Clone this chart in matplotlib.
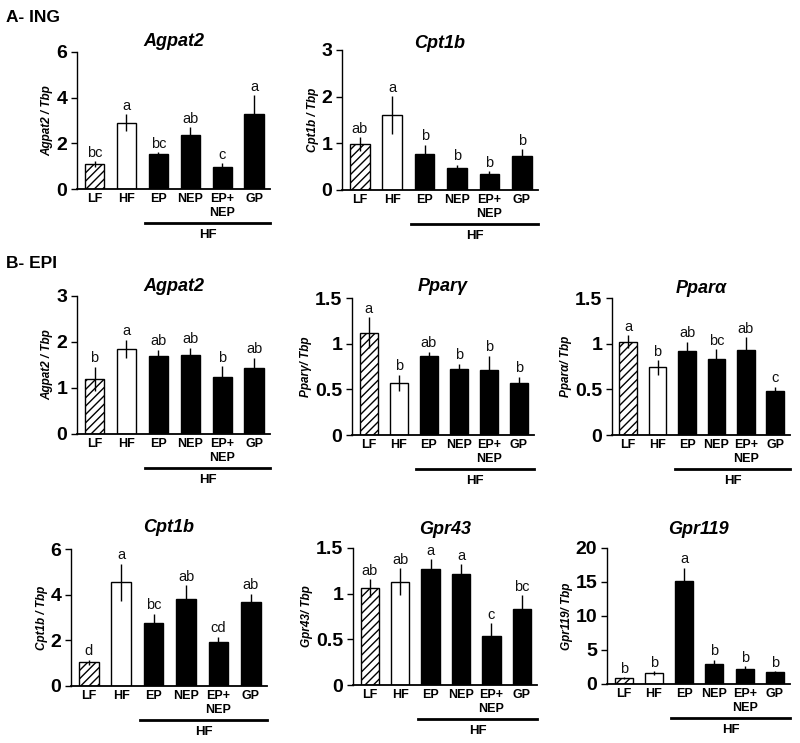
import matplotlib
matplotlib.use("Agg")
import matplotlib.pyplot as plt
import matplotlib.transforms as mtransforms

plt.rcParams['font.family'] = ['Liberation Sans', 'DejaVu Sans']
plt.rcParams['hatch.linewidth'] = 1.0

groups = ["LF", "HF", "EP", "NEP", "EP+\nNEP", "GP"]

# Panel A - ING
ing_agpat2 = [1.10, 2.90, 1.55, 2.35, 0.97, 3.30]
ing_agpat2_err = [0.12, 0.38, 0.07, 0.37, 0.15, 0.80]
ing_agpat2_let = ["bc", "a", "bc", "ab", "c", "a"]

ing_cpt1b = [0.98, 1.60, 0.77, 0.48, 0.34, 0.73]
ing_cpt1b_err = [0.15, 0.41, 0.20, 0.06, 0.06, 0.15]
ing_cpt1b_let = ["ab", "a", "b", "b", "b", "b"]

# Panel B - EPI
epi_agpat2 = [1.20, 1.85, 1.70, 1.72, 1.24, 1.43]
epi_agpat2_err = [0.26, 0.20, 0.13, 0.16, 0.24, 0.23]
epi_agpat2_let = ["b", "a", "ab", "ab", "b", "ab"]

epi_pparg = [1.12, 0.57, 0.87, 0.72, 0.71, 0.57]
epi_pparg_err = [0.17, 0.09, 0.04, 0.06, 0.16, 0.07]
epi_pparg_let = ["a", "b", "ab", "b", "b", "b"]

epi_ppara = [1.02, 0.74, 0.92, 0.83, 0.93, 0.48]
epi_ppara_err = [0.07, 0.08, 0.10, 0.11, 0.14, 0.05]
epi_ppara_let = ["a", "b", "ab", "bc", "ab", "c"]

epi_cpt1b = [1.04, 4.54, 2.78, 3.80, 1.92, 3.66]
epi_cpt1b_err = [0.12, 0.82, 0.38, 0.62, 0.24, 0.38]
epi_cpt1b_let = ["d", "a", "bc", "ab", "cd", "ab"]

epi_gpr43 = [1.06, 1.13, 1.27, 1.21, 0.54, 0.83]
epi_gpr43_err = [0.10, 0.15, 0.11, 0.11, 0.14, 0.15]
epi_gpr43_let = ["ab", "ab", "a", "a", "c", "bc"]

epi_gpr119 = [0.88, 1.62, 15.10, 3.00, 2.20, 1.72]
epi_gpr119_err = [0.10, 0.25, 2.00, 0.60, 0.40, 0.15]
epi_gpr119_let = ["b", "b", "a", "b", "b", "b"]

W, H = 800, 743
fig = plt.figure(figsize=(W / 100, H / 100), dpi=100)


def panel(left, right, y0, ytop, title_y, vals, errs, lets, title, ylabel, yticks, yticklabels):
    ax = fig.add_axes([left / W, 1 - y0 / H, (right - left) / W, (y0 - ytop) / H])
    hpx = y0 - ytop
    x = list(range(len(vals)))
    faces = ["white", "white"] + ["black"] * 4
    hatches = ["////", "", "", "", "", ""]
    for i in x:
        ax.bar(i, vals[i], width=0.6, color=faces[i], edgecolor="black",
               hatch=hatches[i], linewidth=1.0, zorder=2)
    ax.errorbar(x, vals, yerr=errs, fmt="none", ecolor="black", elinewidth=1.0,
                capsize=0, zorder=3)
    for i in x:
        ax.annotate(lets[i], (i, vals[i] + errs[i]), xytext=(0, 1),
                    textcoords="offset points", ha="center", va="bottom",
                    fontsize=10.5, color="#111111")
    ax.set_xlim(-0.55, 5.5)
    ax.set_ylim(0, yticks[-1])
    ax.set_yticks(yticks)
    ax.set_yticklabels(yticklabels, fontsize=14, fontweight="bold")
    ax.set_xticks(x)
    ax.set_xticklabels(groups, fontsize=9, fontweight="bold", linespacing=1.15)
    ax.tick_params(axis="x", length=0, pad=3)
    ax.tick_params(axis="y", length=4, width=1, pad=3, direction="out")
    for s in ["top", "right"]:
        ax.spines[s].set_visible(False)
    ax.spines["left"].set_linewidth(1.0)
    ax.spines["bottom"].set_linewidth(1.3)
    fig.text((left + right) / 2 / W, 1 - title_y / H, title, fontsize=13,
             fontweight="bold", style="italic", ha="center", va="center")
    ax.set_ylabel(ylabel, fontsize=8.5, fontweight="bold", style="italic", labelpad=2)
    trans = mtransforms.blended_transform_factory(ax.transData, ax.transAxes)
    ax.plot([1.58, 5.5], [-34 / hpx, -34 / hpx], color="black", lw=2.0,
            transform=trans, clip_on=False)
    ax.text(3.55, -46 / hpx, "HF", transform=trans, ha="center", va="center",
            fontsize=9.5, fontweight="bold")
    return ax


panel(77, 270, 189, 52, 42, ing_agpat2, ing_agpat2_err, ing_agpat2_let,
      "Agpat2", "Agpat2 / Tbp", [0, 2, 4, 6], ["0", "2", "4", "6"])
panel(342, 538, 190, 50, 43, ing_cpt1b, ing_cpt1b_err, ing_cpt1b_let,
      "Cpt1b", "Cpt1b / Tbp", [0, 1, 2, 3], ["0", "1", "2", "3"])

panel(77, 270, 434, 296, 287, epi_agpat2, epi_agpat2_err, epi_agpat2_let,
      "Agpat2", "Agpat2 / Tbp", [0, 1, 2, 3], ["0", "1", "2", "3"])
panel(352, 534, 435, 298, 287, epi_pparg, epi_pparg_err, epi_pparg_let,
      "Pparγ", "Pparγ/ Tbp", [0, 0.5, 1, 1.5], ["0", "0.5", "1", "1.5"])
panel(612, 790, 435, 298, 288, epi_ppara, epi_ppara_err, epi_ppara_let,
      "Pparα", "Pparα/ Tbp", [0, 0.5, 1, 1.5], ["0", "0.5", "1", "1.5"])

panel(71, 267, 686, 549, 528, epi_cpt1b, epi_cpt1b_err, epi_cpt1b_let,
      "Cpt1b", "Cpt1b / Tbp", [0, 2, 4, 6], ["0", "2", "4", "6"])
panel(353, 537, 685, 548, 529, epi_gpr43, epi_gpr43_err, epi_gpr43_let,
      "Gpr43", "Gpr43/ Tbp", [0, 0.5, 1, 1.5], ["0", "0.5", "1", "1.5"])
panel(607, 790, 684, 548, 529, epi_gpr119, epi_gpr119_err, epi_gpr119_let,
      "Gpr119", "Gpr119/ Tbp", [0, 5, 10, 15, 20], ["0", "5", "10", "15", "20"])

fig.text(6 / W, 1 - 17 / H, "A- ING", fontsize=12.5, fontweight="bold", va="center", ha="left")
fig.text(6 / W, 1 - 263 / H, "B- EPI", fontsize=12.5, fontweight="bold", va="center", ha="left")

fig.savefig("out.png", dpi=100, facecolor="white")
